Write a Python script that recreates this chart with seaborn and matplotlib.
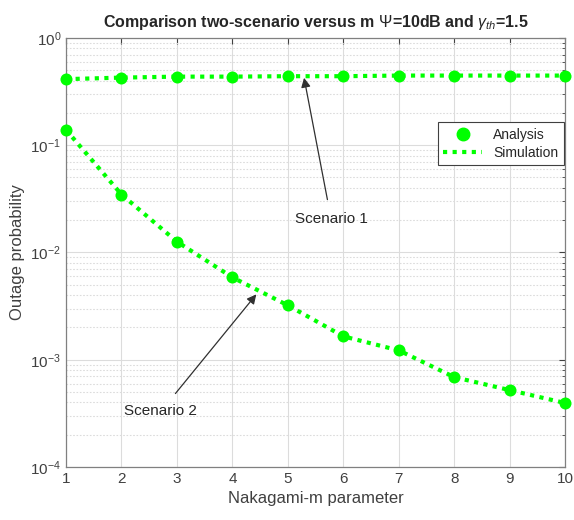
import numpy as np
import pandas as pd
import matplotlib
matplotlib.use("Agg")
import matplotlib.pyplot as plt
import seaborn as sns
from matplotlib.ticker import LogLocator, NullFormatter
from matplotlib.lines import Line2D

m_values = [1, 2, 3, 4, 5, 6, 7, 8, 9, 10]
scenario1 = [0.413, 0.427, 0.436, 0.436, 0.44, 0.44, 0.446, 0.446, 0.446, 0.446]
scenario2 = [0.139, 0.0347, 0.0126, 0.00585, 0.00321, 0.00165, 0.00122, 0.000687, 0.00052, 0.000394]
x_ticks = [1, 2, 3, 4, 5, 6, 7, 8, 9, 10]

df = pd.DataFrame({
    "m": m_values * 2,
    "p": scenario1 + scenario2,
    "scenario": ["Scenario 1"] * len(m_values) + ["Scenario 2"] * len(m_values),
})

sns.set_style("white")
plt.rcParams["font.family"] = ["Liberation Sans", "DejaVu Sans"]
plt.rcParams["mathtext.fontset"] = "custom"
plt.rcParams["mathtext.rm"] = "Liberation Sans"
plt.rcParams["mathtext.it"] = "Liberation Sans:italic"

fig = plt.figure(figsize=(5.74, 5.2), dpi=100)
ax = fig.add_axes([0.115, 0.102, 0.870, 0.825])

green = "#00ff00"
for sc in ["Scenario 1", "Scenario 2"]:
    sub = df[df["scenario"] == sc]
    sns.lineplot(data=sub, x="m", y="p", ax=ax, color=green, linestyle=(0, (1, 1.3)),
                 linewidth=3, legend=False, estimator=None)
    sns.scatterplot(data=sub, x="m", y="p", ax=ax, color=green, s=75, edgecolor=green,
                    linewidth=0, legend=False, zorder=5, clip_on=False)

ax.set_yscale("log")
ax.set_xlim(1, 10)
ax.set_ylim(1e-4, 1)
ax.set_xticks(x_ticks)
ax.yaxis.set_major_locator(LogLocator(base=10, numticks=10))
ax.yaxis.set_minor_locator(LogLocator(base=10, subs=np.arange(2, 10), numticks=20))
ax.yaxis.set_minor_formatter(NullFormatter())

ax.grid(which="major", color="#dcdcdc", linewidth=0.8, linestyle="-")
ax.grid(which="minor", axis="y", color="#dcdcdc", linewidth=0.8, linestyle=(0, (1.5, 1.5)))
ax.set_axisbelow(True)
for s in ax.spines.values():
    s.set_color("#808080")
    s.set_linewidth(0.9)
ax.tick_params(axis="both", which="major", labelsize=11, colors="#404040", direction="in",
               length=4, top=True, right=True)
ax.tick_params(axis="y", which="minor", direction="in", length=2, right=True, colors="#404040")

ax.set_xlabel("Nakagami-m parameter", fontsize=12, color="#404040")
ax.set_ylabel("Outage probability", fontsize=12, color="#404040")
ax.set_title(r"Comparison two-scenario versus m $\Psi$=10dB and $\gamma_{th}$=1.5",
             fontsize=11.5, fontweight="bold", pad=8)

handles = [
    Line2D([], [], color=green, marker="o", linestyle="none", markersize=9),
    Line2D([], [], color=green, linestyle=(0, (1, 1.3)), linewidth=3),
]
leg = ax.legend(handles, ["Analysis", "Simulation"], loc="upper right",
                bbox_to_anchor=(1.0, 0.807), fontsize=10, frameon=True, fancybox=False,
                edgecolor="#404040", framealpha=1, borderpad=0.4, handlelength=2.8,
                labelspacing=0.3, borderaxespad=0.1)
leg.get_frame().set_linewidth(0.8)

ax.annotate("Scenario 1", xy=(5.29, 0.425), xytext=(5.78, 0.0203), fontsize=11,
            ha="center", va="center",
            arrowprops=dict(arrowstyle="-|>", color="#303030", lw=0.9, mutation_scale=14,
                            shrinkA=7, shrinkB=0))
ax.annotate("Scenario 2", xy=(4.43, 0.00407), xytext=(2.71, 0.00033), fontsize=11,
            ha="center", va="center",
            arrowprops=dict(arrowstyle="-|>", color="#303030", lw=0.9, mutation_scale=14,
                            shrinkA=7, shrinkB=0))

fig.savefig("out.png", dpi=100, facecolor="white")
